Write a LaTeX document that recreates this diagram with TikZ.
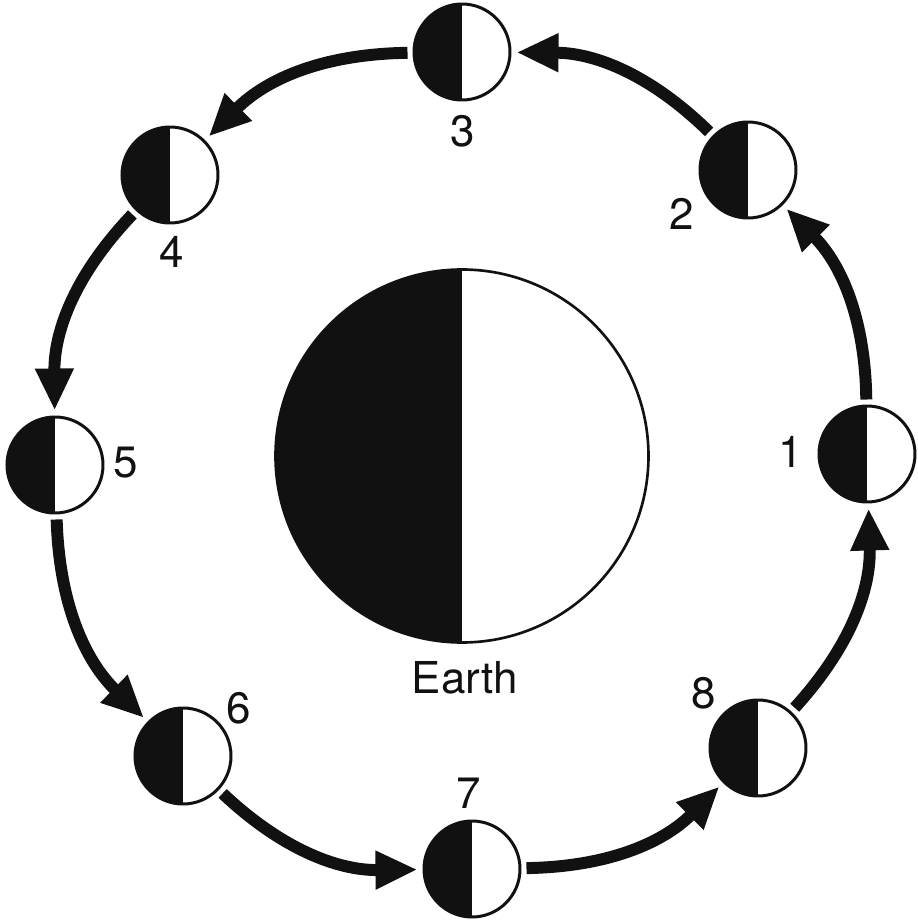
\documentclass[tikz,border=0pt]{standalone}
\usepackage{fontspec}
\setmainfont{TeX Gyre Heros}
\usetikzlibrary{arrows.meta}
\definecolor{ink}{HTML}{111111}

\begin{document}
\begin{tikzpicture}[%
      halfdisc/.style={%
        circle,
        draw          = ink,
        fill          = white,
        inner sep     = 0pt,
        path picture  = {\fill[ink] (path picture bounding box.south west) rectangle (path picture bounding box.north);},
      },
      moon/.style={%
        halfdisc,
        line width    = 1.7pt,
        minimum size  = 1.92cm,
      },
      planet/.style={%
        halfdisc,
        line width    = 1.5pt,
        minimum size  = 7.46cm,
      },
      num/.style={%
        text          = ink,
        inner sep     = 0pt,
        font          = \fontsize{25}{30}\selectfont,
      },
      orbit/.style={%
        draw          = ink,
        line width    = 6.8pt,
        shorten <=    0.1cm,
        shorten >=    0.1cm,
        -{Triangle[length=0.84cm, width=0.72cm]},
      }
      ]
      \useasboundingbox (-9.24,-9.32) rectangle (9.12,9.12);

      \node[planet] (Earth) at (0,0) {};
      \node[num] (Earth-Lbl) at ([shift={(0.06,-4.44)}]Earth.center) {Earth};

      \node[moon] (M1) at (8.10,0.04) {};
      \node[moon] (M2) at (5.72,5.72) {};
      \node[moon] (M3) at (0,8.08) {};
      \node[moon] (M4) at (-5.84,5.62) {};
      \node[moon] (M5) at (-8.14,-0.18) {};
      \node[moon] (M6) at (-5.58,-6.00) {};
      \node[moon] (M7) at (0.20,-8.26) {};
      \node[moon] (M8) at (5.92,-5.84) {};

      \node[num] (L1) at ([shift={(-1.52,0.04)}]M1.center) {1};
      \node[num] (L2) at ([shift={(-1.32,-0.88)}]M2.center) {2};
      \node[num] (L3) at ([shift={(0.02,-1.58)}]M3.center) {3};
      \node[num] (L4) at ([shift={(0.04,-1.54)}]M4.center) {4};
      \node[num] (L5) at ([shift={(1.42,0.04)}]M5.center) {5};
      \node[num] (L6) at ([shift={(1.12,0.96)}]M6.center) {6};
      \node[num] (L7) at ([shift={(-0.06,1.52)}]M7.center) {7};
      \node[num] (L8) at ([shift={(-1.08,1.10)}]M8.center) {8};

      \draw[orbit] (M1) to[bend right=22] (M2);
      \draw[orbit] (M2) to[bend right=22] (M3);
      \draw[orbit] (M3) to[bend right=22] (M4);
      \draw[orbit] (M4) to[bend right=22] (M5);
      \draw[orbit] (M5) to[bend right=22] (M6);
      \draw[orbit] (M6) to[bend right=22] (M7);
      \draw[orbit] (M7) to[bend right=22] (M8);
      \draw[orbit] (M8) to[bend right=22] (M1);

    \end{tikzpicture}
\end{document}
